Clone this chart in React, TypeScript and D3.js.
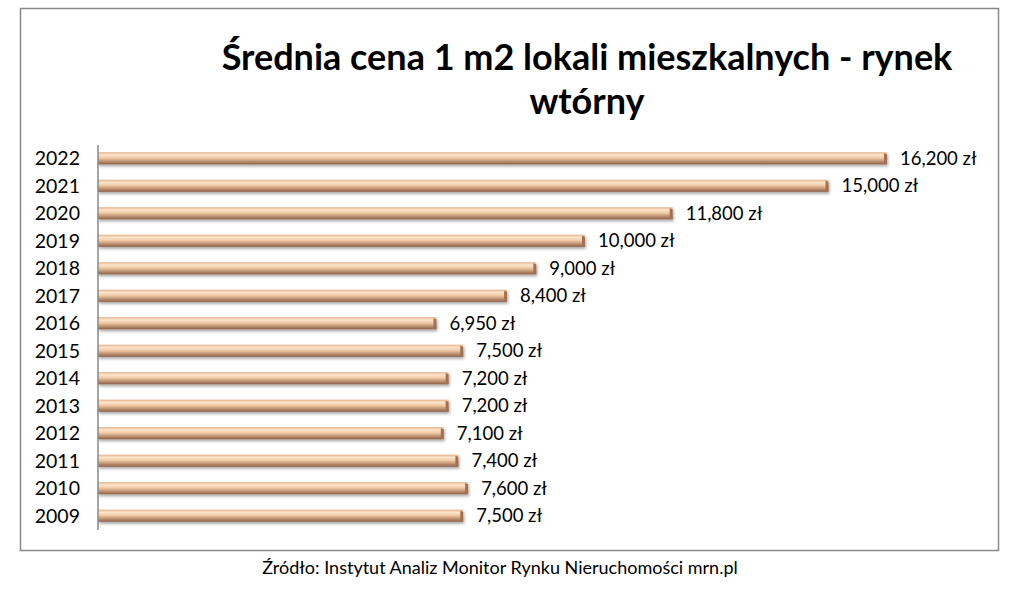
import React, { useRef, useEffect } from "react";
import * as d3 from "d3";

const WIDTH = 1024;
const HEIGHT = 595;

const years = ["2022", "2021", "2020", "2019", "2018", "2017", "2016", "2015", "2014", "2013", "2012", "2011", "2010", "2009"];
const prices = [16200, 15000, 11800, 10000, 9000, 8400, 6950, 7500, 7200, 7200, 7100, 7400, 7600, 7500];
const titleLines = ["Średnia cena 1 m2 lokali mieszkalnych - rynek", "wtórny"];
const source = "Źródło: Instytut Analiz Monitor Rynku Nieruchomości mrn.pl";

const FONT = "Lato, 'Open Sans', sans-serif";

export default function App() {
  const svgRef = useRef<SVGSVGElement | null>(null);

  useEffect(() => {
    const svg = d3.select(svgRef.current);
    svg.selectAll("*").remove();

    const defs = svg.append("defs");
    const grad = defs
      .append("linearGradient")
      .attr("id", "barGrad")
      .attr("x1", 0)
      .attr("y1", 0)
      .attr("x2", 0)
      .attr("y2", 1);
    [
      ["0%", "#e3b088"],
      ["22%", "#fde6cc"],
      ["48%", "#f0c8a3"],
      ["100%", "#8e5f45"],
    ].forEach(([o, c]) => grad.append("stop").attr("offset", o).attr("stop-color", c));

    const shadow = defs.append("filter").attr("id", "shadow").attr("x", "-5%").attr("y", "-50%").attr("width", "110%").attr("height", "250%");
    shadow.append("feGaussianBlur").attr("in", "SourceAlpha").attr("stdDeviation", 1.5);
    shadow.append("feOffset").attr("dx", 1).attr("dy", 2).attr("result", "b");
    shadow.append("feComponentTransfer").append("feFuncA").attr("type", "linear").attr("slope", 0.35);
    const merge = shadow.append("feMerge");
    merge.append("feMergeNode");
    merge.append("feMergeNode").attr("in", "SourceGraphic");

    // Frame
    svg
      .append("rect")
      .attr("x", 20.5)
      .attr("y", 8.5)
      .attr("width", 978)
      .attr("height", 542)
      .attr("fill", "#fff")
      .attr("stroke", "#888")
      .attr("stroke-width", 1.5);

    // Title
    svg
      .append("g")
      .selectAll("text")
      .data(titleLines)
      .enter()
      .append("text")
      .attr("x", 587)
      .attr("y", (_, i) => 70 + i * 44)
      .attr("text-anchor", "middle")
      .attr("font-family", FONT)
      .attr("font-weight", "bold")
      .attr("font-size", 36)
      .attr("fill", "#000")
      .text((d) => d);

    // Scales
    const x = d3.scaleLinear().domain([0, 16200]).range([98, 887]);
    const y = d3.scaleBand().domain(years).range([144, 530]).paddingInner(0.56).paddingOuter(0.3);

    const bars = svg.append("g").selectAll("g").data(years).enter().append("g");

    bars
      .append("rect")
      .attr("x", x(0))
      .attr("y", (d) => y(d)!)
      .attr("width", (_, i) => x(prices[i]) - x(0))
      .attr("height", y.bandwidth())
      .attr("fill", "url(#barGrad)")
      .attr("filter", "url(#shadow)");

    // End cap
    bars
      .append("path")
      .attr("d", (d, i) => {
        const xe = x(prices[i]);
        const y0 = y(d)!;
        const h = y.bandwidth();
        return `M${xe - 3},${y0 + 1} L${xe},${y0 + 2} L${xe},${y0 + h - 1} L${xe - 3},${y0 + h} Z`;
      })
      .attr("fill", "#a07052");

    // Axis line
    svg
      .append("line")
      .attr("x1", x(0))
      .attr("x2", x(0))
      .attr("y1", 145)
      .attr("y2", 530)
      .attr("stroke", "#888")
      .attr("stroke-width", 1.5);

    // Year labels
    svg
      .append("g")
      .selectAll("text")
      .data(years)
      .enter()
      .append("text")
      .attr("x", 80)
      .attr("y", (d) => y(d)! + y.bandwidth() / 2)
      .attr("dy", "0.35em")
      .attr("text-anchor", "end")
      .attr("font-family", FONT)
      .attr("font-size", 19.5)
      .attr("fill", "#000")
      .text((d) => d);

    // Value labels
    svg
      .append("g")
      .selectAll("text")
      .data(years)
      .enter()
      .append("text")
      .attr("x", (_, i) => x(prices[i]) + 13)
      .attr("y", (d) => y(d)! + y.bandwidth() / 2)
      .attr("dy", "0.35em")
      .attr("font-family", FONT)
      .attr("font-size", 18.5)
      .attr("fill", "#000")
      .text((_, i) => `${d3.format(",")(prices[i])} zł`);

    // Source
    svg
      .append("text")
      .attr("x", 500)
      .attr("y", 574)
      .attr("text-anchor", "middle")
      .attr("font-family", FONT)
      .attr("font-size", 18)
      .attr("fill", "#000")
      .text(source);
  }, []);

  return (
    <svg
      ref={svgRef}
      width={WIDTH}
      height={HEIGHT}
      style={{ position: "absolute", left: 0, top: 0, background: "#fff" }}
    />
  );
}
